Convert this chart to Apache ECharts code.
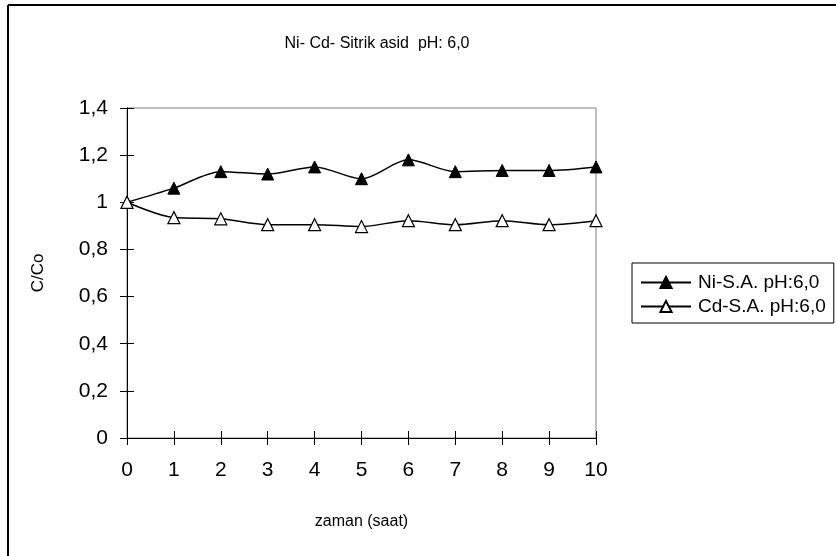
<!DOCTYPE html>
<html>
<head>
<meta charset="utf-8">
<script src="https://cdn.jsdelivr.net/npm/echarts@6/dist/echarts.min.js"></script>
<style>
  html, body { margin: 0; padding: 0; background: #fff; }
  #chart { width: 836px; height: 556px; }
</style>
</head>
<body>
<div id="chart"></div>
<script>
// Chart data
const hours = [0, 1, 2, 3, 4, 5, 6, 7, 8, 9, 10];
const niValues = [1.0, 1.06, 1.13, 1.12, 1.15, 1.10, 1.18, 1.13, 1.135, 1.135, 1.15];
const cdValues = [1.0, 0.935, 0.93, 0.905, 0.905, 0.897, 0.922, 0.905, 0.922, 0.905, 0.922];
const seriesNames = ['Ni-S.A. pH:6,0', 'Cd-S.A. pH:6,0'];

const font = 'Liberation Sans, Arial, sans-serif';

const chart = echarts.init(document.getElementById('chart'));

// Two stacked axes per direction: one with outward ticks, one with inward, so ticks cross the line
function xAxisDef(inside) {
    return {
        type: 'value',
        position: 'bottom',
        min: 0,
        max: 10,
        interval: 1,
        name: inside ? '' : 'zaman (saat)',
        nameLocation: 'middle',
        nameGap: 76,
        nameTextStyle: { fontFamily: font, fontSize: 16, color: '#000' },
        axisLine: { show: true, lineStyle: { color: '#000', width: 1 } },
        axisTick: { show: true, inside: inside, length: 7, lineStyle: { color: '#000' } },
        axisLabel: { show: !inside, fontFamily: font, fontSize: 21, color: '#000', margin: 22 },
        splitLine: { show: false }
    };
}

function yAxisDef(inside) {
    return {
        type: 'value',
        position: 'left',
        offset: 0,
        min: 0,
        max: 1.4,
        interval: 0.2,
        name: inside ? '' : 'C/Co',
        nameLocation: 'middle',
        nameGap: 80,
        nameTextStyle: { fontFamily: font, fontSize: 17, color: '#000' },
        axisLine: { show: true, lineStyle: { color: '#000', width: 1 } },
        axisTick: { show: true, inside: inside, length: 7, lineStyle: { color: '#000' } },
        axisLabel: {
            show: !inside,
            fontFamily: font,
            fontSize: 21,
            color: '#000',
            margin: 19,
            formatter: v => String(Math.round(v * 10) / 10).replace('.', ',')
        },
        splitLine: { show: false }
    };
}

const option = {
    backgroundColor: '#fff',
    animation: false,
    title: {
        text: 'Ni- Cd- Sitrik asid  pH: 6,0',
        left: 372,
        top: 31,
        textAlign: 'center',
        textStyle: { fontFamily: font, fontSize: 16, fontWeight: 'normal', color: '#000' }
    },
    grid: {
        left: 127,
        top: 108,
        width: 469,
        height: 330,
        show: true,
        borderColor: '#808080',
        borderWidth: 1,
        backgroundColor: '#fff'
    },
    legend: {
        orient: 'vertical',
        left: 632,
        top: 263,
        padding: [10, 8, 7, 8],
        itemGap: 5,
        itemWidth: 50,
        itemHeight: 14,
        borderColor: '#000',
        borderWidth: 1,
        backgroundColor: '#fff',
        textStyle: { fontFamily: font, fontSize: 19, color: '#000', padding: [0, 0, 0, 2] },
        data: seriesNames
    },
    xAxis: [xAxisDef(false), xAxisDef(true)],
    yAxis: [yAxisDef(false), yAxisDef(true)],
    graphic: [
        { type: 'line', shape: { x1: 8, y1: 5, x2: 836, y2: 5 }, style: { stroke: '#000', lineWidth: 2 } },
        { type: 'line', shape: { x1: 8, y1: 5, x2: 8, y2: 556 }, style: { stroke: '#000', lineWidth: 2 } }
    ],
    series: [
        {
            name: seriesNames[0],
            type: 'line',
            smooth: 0.3,
            data: hours.map((h, i) => [h, niValues[i]]),
            symbol: 'triangle',
            symbolSize: 12,
            lineStyle: { color: '#000', width: 1.5 },
            itemStyle: { color: '#000', borderColor: '#000', borderWidth: 1 },
            z: 3
        },
        {
            name: seriesNames[1],
            type: 'line',
            smooth: 0.3,
            data: hours.map((h, i) => [h, cdValues[i]]),
            symbol: 'triangle',
            symbolSize: 12,
            lineStyle: { color: '#000', width: 1.5 },
            itemStyle: { color: '#fff', borderColor: '#000', borderWidth: 1.2 },
            z: 4
        }
    ]
};

chart.setOption(option);
</script>
</body>
</html>
